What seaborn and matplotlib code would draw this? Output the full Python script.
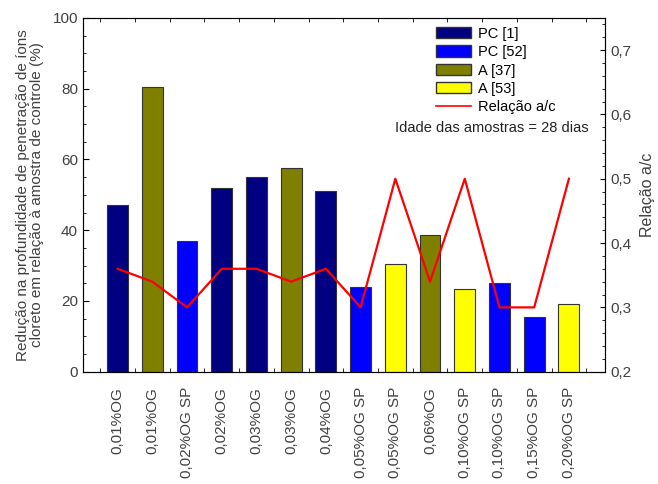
import numpy as np
import pandas as pd
import matplotlib
matplotlib.use("Agg")
import matplotlib.pyplot as plt
import seaborn as sns
from matplotlib.ticker import MultipleLocator
from matplotlib.patches import Patch
from matplotlib.lines import Line2D

# Datos
rotulos = ['0,01%OG', '0,01%OG', '0,02%OG SP', '0,02%OG', '0,03%OG', '0,03%OG',
           '0,04%OG', '0,05%OG SP', '0,05%OG SP', '0,06%OG', '0,10%OG SP',
           '0,10%OG SP', '0,15%OG SP', '0,20%OG SP']
fuente = ['PC [1]', 'A [37]', 'PC [52]', 'PC [1]', 'PC [1]', 'A [37]', 'PC [1]',
          'PC [52]', 'A [53]', 'A [37]', 'A [53]', 'PC [52]', 'PC [52]', 'A [53]']
reduccion = [47, 80.5, 37, 52, 55, 57.5, 51, 24, 30.5, 38.5, 23.5, 25, 15.5, 19]
relacion_ac = [0.36, 0.34, 0.30, 0.36, 0.36, 0.34, 0.36, 0.30, 0.50, 0.34,
               0.50, 0.30, 0.30, 0.50]

series = ['PC [1]', 'PC [52]', 'A [37]', 'A [53]']
colores = {'PC [1]': '#000080', 'PC [52]': '#0000FF',
           'A [37]': '#808000', 'A [53]': '#FFFF00'}

df = pd.DataFrame({'pos': np.arange(len(rotulos)), 'fuente': fuente,
                   'reduccion': reduccion, 'ac': relacion_ac})

plt.rcParams['font.family'] = ['Liberation Sans', 'DejaVu Sans']
gris = '#404040'

fig, ax = plt.subplots(figsize=(6.58, 4.84), dpi=100)
fig.subplots_adjust(left=0.126, right=0.920, top=0.963, bottom=0.232)

for s in series:
    sub = df[df['fuente'] == s]
    ax.bar(sub['pos'], sub['reduccion'], width=0.6, color=colores[s],
           edgecolor='#333333', linewidth=0.8, zorder=2)

ax.set_xlim(-1, 14.05)
ax.set_ylim(0, 100)
ax.yaxis.set_major_locator(MultipleLocator(20))
ax.yaxis.set_minor_locator(MultipleLocator(5))
ax.set_xticks(df['pos'])
ax.set_xticklabels(rotulos, rotation=90, fontsize=11, color=gris)
ax.set_xticks(np.arange(-0.5, 14, 1), minor=True)
ax.tick_params(axis='x', which='major', length=0, pad=11)
ax.tick_params(axis='x', which='minor', direction='in', length=3, top=True)
ax.tick_params(axis='y', which='both', direction='in', labelsize=11,
               labelcolor=gris)
ax.tick_params(axis='y', which='minor', length=2.5)
ax.tick_params(axis='y', which='major', length=4)
ax.set_ylabel('Redução na profundidade de penetração de íons\n'
              'cloreto em relação à amostra de controle (%)',
              fontsize=11, color=gris, linespacing=1.05, labelpad=6)
for sp in ax.spines.values():
    sp.set_color('#555555')

ax2 = ax.twinx()
sns.lineplot(data=df, x='pos', y='ac', ax=ax2, color='red', linewidth=1.6,
             zorder=3)
ax2.set_ylim(0.2, 0.75)
ax2.yaxis.set_minor_locator(MultipleLocator(0.02))
ax2.set_yticks([0.2, 0.3, 0.4, 0.5, 0.6, 0.7])
ax2.set_yticklabels(['0,2', '0,3', '0,4', '0,5', '0,6', '0,7'])
ax2.tick_params(axis='y', which='both', direction='in', labelsize=11,
                labelcolor=gris)
ax2.tick_params(axis='y', which='minor', length=2.5)
ax2.set_ylabel('Relação a/c', fontsize=11.5, color=gris, labelpad=6)
ax2.set_xlabel('')

handles = [Patch(facecolor=colores[s], edgecolor='#333333', label=s) for s in series]
handles.append(Line2D([], [], color='red', linewidth=1.2, label='Relação a/c'))
ax.legend(handles=handles, loc='upper left', bbox_to_anchor=(0.675, 0.975),
          frameon=False, fontsize=10.5, handlelength=2.4, handleheight=0.8,
          labelspacing=0.3, handletextpad=0.5, borderaxespad=0, borderpad=0)
ax.text(0.968, 0.689, 'Idade das amostras = 28 dias', transform=ax.transAxes,
        ha='right', va='center', fontsize=10.5, color='#222222')

fig.savefig('out.png', dpi=100)
